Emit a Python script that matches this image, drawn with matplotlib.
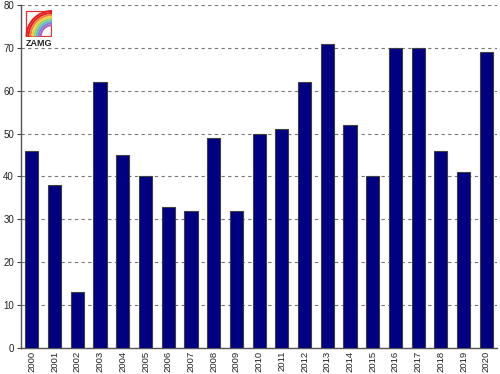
import matplotlib
matplotlib.use("Agg")
import matplotlib.pyplot as plt
from matplotlib.patches import Rectangle, Wedge

plt.rcParams["font.family"] = ["Liberation Sans", "DejaVu Sans"]

years = [str(y) for y in range(2000, 2021)]
values = [46, 38, 13, 62, 45, 40, 33, 32, 49, 32, 50, 51, 62, 71, 52, 40, 70, 70, 46, 41, 69]
yticks = [0, 10, 20, 30, 40, 50, 60, 70, 80]

fig = plt.figure(figsize=(5.0, 3.74), dpi=100)
ax = fig.add_axes([21/500, 26/374, 476/500, 343/374])
x = list(range(len(years)))
ax.bar(x, values, width=0.58, color="#000080", edgecolor="#404040", linewidth=0.8, zorder=3)
ax.set_xlim(-0.48, 20.47)
ax.set_ylim(0, 80)
ax.set_yticks(yticks)
ax.set_yticklabels([str(t) for t in yticks], fontsize=7, color="#222222")
ax.set_xticks(x)
ax.set_xticklabels(years, rotation=90, fontsize=6.8, color="#222222")
ax.tick_params(axis="y", length=3, width=0.8, color="#444444", pad=2)
ax.tick_params(axis="x", length=0, pad=2)
ax.grid(axis="y", linestyle=(0, (3, 3)), color="#777777", linewidth=0.8, zorder=0)
for s in ["top", "right"]:
    ax.spines[s].set_visible(False)
ax.spines["left"].set_color("#555555")
ax.spines["bottom"].set_color("#555555")
ax.spines["left"].set_linewidth(1.0)
ax.spines["bottom"].set_linewidth(1.0)

# ZAMG logo
lax = fig.add_axes([25/500, 1 - 37/374, 27/500, 27/374])
lax.set_xlim(0, 1)
lax.set_ylim(0, 1)
lax.axis("off")
lax.add_patch(Rectangle((0.02, 0.02), 0.96, 0.96, fill=False, edgecolor="#e03030", linewidth=0.9))
cols = ["#e02020", "#e02020", "#f08040", "#f0d040", "#a0d060", "#60c0c0", "#8080d0", "#b060c0"]
r = 0.98
for i, c in enumerate(cols):
    lax.add_patch(Wedge((1.0, 0.02), r - i * 0.075, 90, 180, width=0.075, color=c, lw=0))
fig.text(38.5/500, 1 - 43/374, "ZAMG", fontsize=6.5, fontweight="bold", ha="center", va="center", color="#222222")

fig.savefig("out.png", dpi=100)
